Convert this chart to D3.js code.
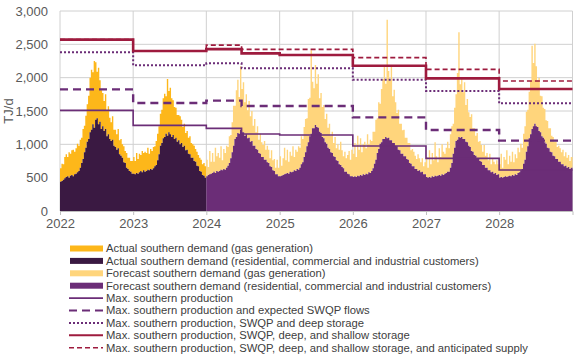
<!DOCTYPE html>
<html><head><meta charset="utf-8">
<script src="https://cdn.jsdelivr.net/npm/d3@7"></script>
<style>
html,body{margin:0;padding:0;background:#fff;}
svg{display:block;font-family:"Liberation Sans",Arial,sans-serif;}
</style></head><body>
<svg id="chart" width="575" height="362"></svg>
<script>
// ---------------- DATA ----------------
const years = [2022, 2023, 2024, 2025, 2026, 2027, 2028];
const yTicks = [0, 500, 1000, 1500, 2000, 2500, 3000];
const actualYears = [2022, 2023];

// Weekly residential, commercial and industrial demand (TJ/d), 52 weeks per year
const res2022 = [440,450,470,490, 510,520,500,530,540, 520,550,560,580,600, 650,720,780,880, 950,1040,1080,1180, 1220,1300,1250,1370, 1390,1300,1340,1230,1270, 1200,1230,1120,1150, 1080,1050,1070,980, 960,920,940,850,830, 800,730,720,650, 630,600,590,560];
const res2023 = [560,550,570,560, 580,600,580,610,590, 600,620,610,630,620, 640,670,690,760, 850,980,1020,1090, 1110,1160,1130,1180, 1150,1110,1140,1080,1100, 1040,1060,1000,1020, 960,980,910,920, 860,850,800,800,750, 740,680,670,600, 590,540,530,500];
const res2024 = [520,540,550,560, 570,590,570,600,590, 600,620,610,630,620, 650,680,720,790, 880,980,1080,1110, 1170,1160,1220,1180, 1180,1130,1150,1090,1100, 1040,1050,980,980, 930,920,870,860, 810,810,770,770,730, 720,670,660,610, 600,550,550,520];
const res2025 = [520,530,540,550, 560,570,560,590,580, 590,610,600,630,620, 650,700,730,810, 880,970,1030,1120, 1160,1240,1240,1290, 1260,1250,1190,1170,1110, 1090,1030,1010,950, 930,880,870,820, 810,760,750,700, 690,660,640,590,590, 560,550,520,520];
const res2026 = [510,520,510,530, 520,540,530,550,540, 560,550,580,570,600, 640,710,770,870, 930,1010,1030,1080, 1080,1110,1090,1100, 1060,1060,1020,1020,980, 970,920,910,860, 860,820,820,780, 770,720,710,670,670, 630,630,600,610, 580,590,550,550];
const res2027 = [510,500,510,500, 520,510,530,520,530, 540,530,550,540,560, 570,590,590,650, 720,860,950,1050, 1070,1110,1100,1110, 1080,1080,1040,1030,980, 960,900,890,840, 830,790,790,750, 740,690,690,650,650, 610,610,580,590, 560,570,540,550];
const res2028 = [500,510,500,510, 520,510,520,530,520, 540,530,550,540,570, 580,610,630,710, 770,890,970,1090, 1150,1230,1270,1310, 1270,1260,1200,1180,1120, 1100,1030,1010,950, 940,890,880,830, 820,780,780,740, 740,700,700,670,680, 650,660,630,650];

// Weekly gas generation demand (TJ/d), stacked on top
const gas2022 = [200,260,230,320, 340,290,380,330,370, 400,340,380,430,380, 420,380,450,400, 480,560,650,820, 900,780,1000,860, 700,850,620,580,500, 450,520,380,420, 320,280,350,240, 260,230,290,210,250, 200,240,180,220, 170,200,160,190];
const gas2023 = [250,200,300,220, 280,240,320,260,300, 270,330,250,300,280, 320,300,360,400, 420,480,500,600, 650,560,850,620, 700,580,520,480,450, 400,380,420,350, 300,330,260,280, 240,270,220,200,230, 190,210,170,200, 180,160,190,170];
const gas2024 = [250,120,350,180, 300,150,380,220,280, 200,350,150,300,250, 330,280,400,350, 450,600,500,700, 800,550,950,650, 750,500,600,420,550, 380,450,300,400, 250,350,200,300, 220,180,280,150,250, 200,120,250,150, 180,100,220,130];
const gas2025 = [300,150,250,400, 200,350,180,300,250, 380,200,320,260,350, 300,420,350,450, 500,420,650,580, 1250,700,600,900, 650,800,500,600,450, 500,350,450,300, 380,250,320,200, 300,180,250,220,350, 250,180,300,200, 280,350,250,400];
const gas2026 = [350,500,300,600, 400,550,350,450,500, 380,600,420,500,450, 550,480,600,520, 700,600,800,900, 1100,800,1780,1000, 900,1100,700,800,650, 500,600,400,450, 350,400,280,320, 250,300,200,260,220, 200,150,250,180, 150,200,120,180];
const gas2027 = [300,150,400,200, 350,250,500,300,200, 400,280,450,350,300, 380,450,350,500, 550,450,600,700, 1000,1570,800,900, 700,850,550,650,500, 450,550,350,400, 300,380,250,300, 250,200,300,180,220, 150,250,120,200, 180,130,220,150];
const gas2028 = [200,350,150,300, 250,400,180,300,220, 350,200,300,250,380, 300,400,320,450, 500,600,550,700, 800,1250,950,1200, 900,700,800,550,600, 450,500,350,400, 300,350,250,280, 220,260,180,240,200, 180,220,150,200, 150,180,120,160];

// Supply capacity steps (TJ/d), starting at each date
const stepDates = ["2022-01-01","2023-01-01","2024-01-01","2024-06-25","2025-01-01","2026-01-01","2027-01-01","2028-01-01"];
const stepEnd = "2029-01-01";
const prodCap        = [1510, 1285, 1240, 1155, 1140, 975, 790, 615];
const swqpCap        = [1825, 1620, 1655, 1575, 1575, 1405, 1215, 1055];
const deepCap        = [2380, 2185, 2215, 2140, 2140, 1970, 1800, 1615];
const shallowCap     = [2570, 2400, 2428, 2365, 2340, 2178, 1990, 1830];
const anticipatedCap = [2570, 2400, 2488, 2425, 2425, 2300, 2125, 1950];

const legendLabels = [
  "Actual southern demand (gas generation)",
  "Actual southern demand (residential, commercial and industrial customers)",
  "Forecast southern demand (gas generation)",
  "Forecast southern demand (residential, commercial and industrial customers)",
  "Max. southern production",
  "Max. southern production and expected SWQP flows",
  "Max. southern production, SWQP and deep storage",
  "Max. southern production, SWQP, deep, and shallow storage",
  "Max. southern production, SWQP, deep, and shallow storage, and anticipated supply"
];

// ---------------- BUILD ----------------
const resByYear = {2022:res2022,2023:res2023,2024:res2024,2025:res2025,2026:res2026,2027:res2027,2028:res2028};
const gasByYear = {2022:gas2022,2023:gas2023,2024:gas2024,2025:gas2025,2026:gas2026,2027:gas2027,2028:gas2028};

function weekly(yrs){
  const out = [];
  yrs.forEach(yr => {
    const start = new Date(yr,0,1);
    resByYear[yr].forEach((r,i) => {
      out.push({date: d3.timeDay.offset(start, 7*i), res: r, gas: gasByYear[yr][i]});
    });
  });
  const last = out[out.length-1];
  out.push({date: new Date(yrs[yrs.length-1]+1,0,1), res: last.res, gas: last.gas});
  return out;
}
const actualData = weekly(actualYears);
const forecastData = weekly(years.filter(y => !actualYears.includes(y)));

const parse = d3.timeParse("%Y-%m-%d");
function steps(vals){
  const pts = stepDates.map((d,i) => ({date: parse(d), v: vals[i]}));
  pts.push({date: parse(stepEnd), v: vals[vals.length-1]});
  return pts;
}

const svg = d3.select("#chart");
const M = {left:60, right:572.5, top:11, bottom:211};
const x = d3.scaleTime().domain([new Date(2022,0,1), new Date(2029,0,1)]).range([M.left, M.right]);
const y = d3.scaleLinear().domain([0,3000]).range([M.bottom, M.top]);

// gridlines
const grid = svg.append("g");
grid.selectAll("line.h").data(yTicks).enter().append("line")
  .attr("x1", M.left).attr("x2", M.right).attr("y1", d=>y(d)).attr("y2", d=>y(d))
  .attr("stroke", "#d0d0d0").attr("stroke-width", 1);
const yearTicks = years.concat([2029]).map(yy => new Date(yy,0,1));
grid.selectAll("line.v").data(yearTicks).enter().append("line")
  .attr("x1", d=>x(d)).attr("x2", d=>x(d)).attr("y1", M.top).attr("y2", M.bottom)
  .attr("stroke", "#d0d0d0").attr("stroke-width", 1);

const colors = {
  actGas: "#FDB71A", actRes: "#3A1942", fcGas: "#FFD57C", fcRes: "#6B2D77",
  purple: "#6B2D77", red: "#9E1B3E"
};

const areaRes = d3.area().x(d=>x(d.date)).y0(y(0)).y1(d=>y(d.res)).curve(d3.curveStepAfter);
const areaGas = d3.area().x(d=>x(d.date)).y0(d=>y(d.res)).y1(d=>y(d.res+d.gas)).curve(d3.curveStepAfter);

svg.append("path").datum(actualData).attr("d", areaGas).attr("fill", colors.actGas);
svg.append("path").datum(actualData).attr("d", areaRes).attr("fill", colors.actRes);
svg.append("path").datum(forecastData).attr("d", areaGas).attr("fill", colors.fcGas);
svg.append("path").datum(forecastData).attr("d", areaRes).attr("fill", colors.fcRes);

// axes
const yAxis = d3.axisLeft(y).tickValues(yTicks).tickSize(0).tickPadding(12).tickFormat(d3.format(","));
const gy = svg.append("g").attr("transform", `translate(${M.left},0)`).call(yAxis);
gy.select(".domain").remove();
gy.selectAll("text").attr("font-size", 13).attr("fill", "#595959").attr("font-family", "Liberation Sans, Arial, sans-serif");

const xAxis = d3.axisBottom(x).tickValues(yearTicks.slice(0,7)).tickSize(4).tickPadding(4).tickFormat(d3.timeFormat("%Y"));
const gx = svg.append("g").attr("transform", `translate(0,${M.bottom})`).call(xAxis);
gx.select(".domain").attr("stroke", "#bfbfbf");
gx.selectAll(".tick line").attr("stroke", "#bfbfbf");
gx.selectAll("text").attr("font-size", 13).attr("fill", "#595959").attr("font-family", "Liberation Sans, Arial, sans-serif");

svg.append("text").attr("transform", `translate(13,${(M.top+M.bottom)/2}) rotate(-90)`)
  .attr("text-anchor", "middle").attr("font-size", 13).attr("fill", "#595959").text("TJ/d");

// step lines
const line = d3.line().x(d=>x(d.date)).y(d=>y(d.v)).curve(d3.curveStepAfter);
const lineStyles = [
  {vals: prodCap, color: colors.purple, w: 1.6, dash: null},
  {vals: swqpCap, color: colors.purple, w: 2.4, dash: "8,5"},
  {vals: deepCap, color: colors.purple, w: 2, dash: "2,2"},
  {vals: shallowCap, color: colors.red, w: 2.6, dash: null},
  {vals: anticipatedCap, color: colors.red, w: 1.6, dash: "5,3"}
];
lineStyles.forEach(s => {
  svg.append("path").datum(steps(s.vals)).attr("d", line)
    .attr("fill", "none").attr("stroke", s.color).attr("stroke-width", s.w)
    .attr("stroke-dasharray", s.dash);
});

// legend
const swatch = [
  {type:"rect", color: colors.actGas},
  {type:"rect", color: colors.actRes},
  {type:"rect", color: colors.fcGas},
  {type:"rect", color: colors.fcRes},
  {type:"line", ...lineStyles[0]},
  {type:"line", ...lineStyles[1]},
  {type:"line", ...lineStyles[2]},
  {type:"line", ...lineStyles[3]},
  {type:"line", ...lineStyles[4]}
];
const lg = svg.append("g");
legendLabels.forEach((lab, i) => {
  const cy = 248.5 + i*12.4;
  const s = swatch[i];
  if (s.type === "rect") {
    lg.append("rect").attr("x", 70).attr("y", cy-3).attr("width", 33).attr("height", 6).attr("fill", s.color);
  } else {
    lg.append("line").attr("x1", 69).attr("x2", 103).attr("y1", cy).attr("y2", cy)
      .attr("stroke", s.color).attr("stroke-width", Math.min(s.w, 2))
      .attr("stroke-dasharray", s.dash);
  }
  lg.append("text").attr("x", 106).attr("y", cy).attr("dy", "0.35em")
    .attr("font-size", 11.25).attr("fill", "#404040").text(lab);
});
</script>
</body></html>
